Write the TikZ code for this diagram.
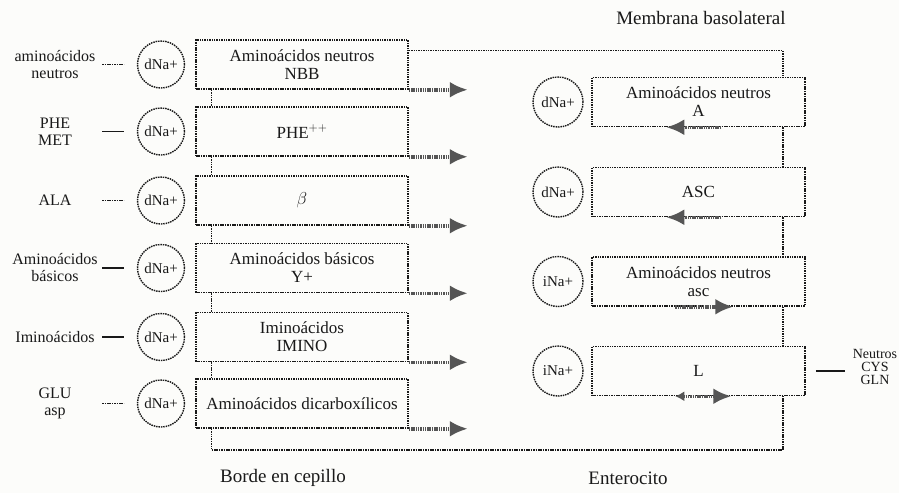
\documentclass[tikz,border=0pt]{standalone}
\usepackage{fontspec}
\setmainfont{Liberation Serif}
\usepackage{xcolor}
\usepackage{tikz}
\usetikzlibrary{arrows.meta, calc}
\definecolor{ScanInk}{RGB}{25, 25, 25}
\definecolor{ScanGray}{RGB}{85, 85, 85}
\definecolor{ScanPaper}{RGB}{252, 252, 250}

\tikzset{
  membox/.style={draw=ScanInk, line width=1.5pt, dash pattern=on 1.5pt off 0.9pt,
    minimum width=212pt, minimum height=49pt, inner sep=0pt, align=center,
    text=ScanInk, font=\fontsize{17}{18}\selectfont},
  naion/.style={circle, draw=ScanInk, line width=1.4pt, dash pattern=on 1.5pt off 0.9pt,
    minimum size=47pt, inner sep=0pt, text=ScanInk, font=\fontsize{15}{16}\selectfont},
  sublabel/.style={text width=86pt, inner sep=0pt, align=center, text=ScanInk,
    font=\fontsize{16}{17}\selectfont},
  caption/.style={inner sep=0pt, text=ScanInk, font=\fontsize{19}{21}\selectfont},
  tether/.style={draw=ScanInk, line width=1.5pt, dash pattern=on 1.5pt off 0.9pt},
  solidtie/.style={draw=ScanInk, line width=1.5pt},
  flow/.style={draw=ScanGray, line width=3.5pt, dash pattern=on 1.5pt off 0.8pt,
    -{Latex[length=18pt,width=16pt]}},
  backflow/.style={flow, {Latex[length=9pt,width=10pt]}-{Latex[length=18pt,width=16pt]}},
}

\begin{document}
\begin{tikzpicture}[x=1pt,y=-1pt]
  \path[use as bounding box] (0,0) rectangle (899,493);
  \fill[ScanPaper] (0,0) rectangle (899,493);

  % Borde en cepillo: sistemas de transporte
  \node[membox] (nbb) at (302,64.5) {Aminoácidos neutros\\NBB};
  \node[membox] (phe) at (302,131.5) {PHE$^{++}$};
  \node[membox] (beta) at (302,200.5) {$\beta$};
  \node[membox] (yplus) at (302,268) {Aminoácidos básicos\\Y+};
  \node[membox] (imino) at (302,337) {Iminoácidos\\IMINO};
  \node[membox] (dicarb) at (302,403.5) {Aminoácidos dicarboxílicos};

  \node[naion] (na1) at (161,64.5) {dNa+};
  \node[naion] (na2) at (161,131.5) {dNa+};
  \node[naion] (na3) at (161,200.5) {dNa+};
  \node[naion] (na4) at (161,268) {dNa+};
  \node[naion] (na5) at (161,337) {dNa+};
  \node[naion] (na6) at (161,403.5) {dNa+};

  \node[sublabel] (lab1) at (55,64.5) {aminoácidos\\neutros};
  \node[sublabel] (lab2) at (55,131.5) {PHE\\MET};
  \node[sublabel] (lab3) at (55,200.5) {ALA};
  \node[sublabel] (lab4) at (55,268) {Aminoácidos\\básicos};
  \node[sublabel] (lab5) at (55,337) {Iminoácidos};
  \node[sublabel] (lab6) at (55,403.5) {GLU\\asp};

  \draw[tether, shorten <=4pt, shorten >=13pt] (lab1.east) -- (na1);
  \draw[solidtie, shorten <=4pt, shorten >=13pt] (lab2.east) -- (na2);
  \draw[tether, shorten <=4pt, shorten >=13pt] (lab3.east) -- (na3);
  \draw[solidtie, shorten <=4pt, shorten >=13pt] (lab4.east) -- (na4);
  \draw[solidtie, shorten <=4pt, shorten >=13pt] (lab5.east) -- (na5);
  \draw[tether, shorten <=4pt, shorten >=13pt] (lab6.east) -- (na6);

  % salida hacia el enterocito
  \foreach \b in {nbb,phe,beta,yplus,imino,dicarb} {
    \coordinate (\b-out) at ([xshift=59pt]\b.south east);
    \draw[flow] (\b.south east) -- (\b-out);
  }

  % Membrana basolateral: sistemas de transporte
  \node[membox, minimum width=213pt] (asys) at (698.5,102) {Aminoácidos neutros\\A};
  \node[membox, minimum width=213pt] (ascup) at (698.5,192) {ASC};
  \node[membox, minimum width=213pt] (asclow) at (698.5,281.5) {Aminoácidos neutros\\asc};
  \node[membox, minimum width=213pt] (lsys) at (698.5,371) {L};

  \node[naion, minimum size=50pt] (na7) at (558,102) {dNa+};
  \node[naion, minimum size=50pt] (na8) at (558,192) {dNa+};
  \node[naion, minimum size=50pt] (na9) at (558,281.5) {iNa+};
  \node[naion, minimum size=50pt] (na10) at (558,371) {iNa+};

  \draw[flow] ([xshift=130pt]asys.south west) -- ([xshift=75pt]asys.south west);
  \draw[flow] ([xshift=130pt]ascup.south west) -- ([xshift=75pt]ascup.south west);
  \draw[flow] ([xshift=84pt]asclow.south west) -- ([xshift=142pt]asclow.south west);
  \draw[backflow] ([xshift=84pt]lsys.south west) -- ([xshift=140pt]lsys.south west);

  \node[inner sep=0pt, align=center, text=ScanInk, font=\fontsize{14}{13}\selectfont]
    (neut) at (875,367) {Neutros\\CYS\\GLN};
  \draw[solidtie, shorten <=10pt, shorten >=8pt] (lsys.east) -- (lsys.east -| neut.west);

  % membrana continua
  \foreach \u/\v in {nbb/phe, phe/beta, beta/yplus, yplus/imino, imino/dicarb}
    \draw[tether] ([xshift=16pt]\u.south west) -- ([xshift=16pt]\v.north west);
  \foreach \u/\v in {asys/ascup, ascup/asclow, asclow/lsys}
    \draw[tether] ([xshift=-23pt]\u.south east) -- ([xshift=-23pt]\v.north east);
  \draw[tether] ([yshift=14pt]nbb.east) -| ([xshift=-23pt]asys.north east);
  \coordinate (floor) at (500,450);
  \draw[tether] ([xshift=16pt]dicarb.south west) |- (floor) -| ([xshift=-23pt]lsys.south east);

  \node[caption] (baso) at (701,18) {Membrana basolateral};
  \node[caption] (cepillo) at (283,478) {Borde en cepillo};
  \node[caption] (entero) at (628,478) {Enterocito};
\end{tikzpicture}
\end{document}
